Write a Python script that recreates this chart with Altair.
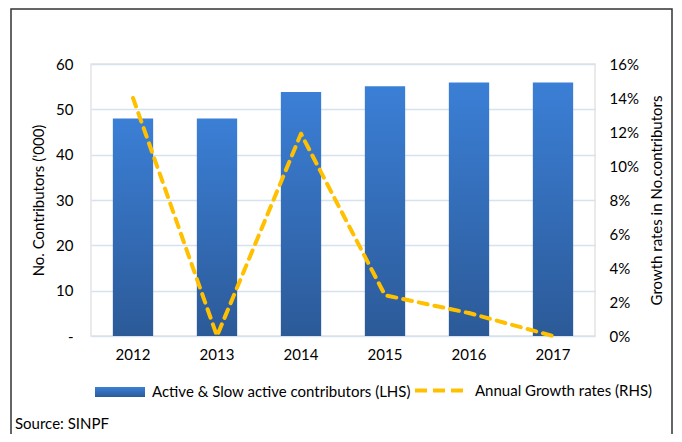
import altair as alt
import pandas as pd

years = ["2012", "2013", "2014", "2015", "2016", "2017"]
contributors = [48.0, 48.0, 53.8, 55.1, 55.9, 55.9]
growth_pct = [14.0, 0.0, 11.9, 2.4, 1.35, 0.0]

bar_label = "Active & Slow active contributors (LHS)"
line_label = "Annual Growth rates (RHS)"

df = pd.DataFrame({
    "year": years,
    "contrib": contributors,
    "growth": [g / 100 for g in growth_pct],
    "bar_series": [bar_label] * len(years),
    "line_series": [line_label] * len(years),
})

FONT = "Lato"
FS = 15

x_enc = alt.X(
    "year:N",
    sort=years,
    scale=alt.Scale(paddingInner=0.52, paddingOuter=0.26),
    axis=alt.Axis(title=None, labelAngle=0, ticks=False, domain=False,
                  labelPadding=11, labelFontSize=FS, labelColor="#000000",
                  labelFont=FONT),
)

grad = alt.Gradient(
    gradient="linear",
    stops=[alt.GradientStop(color="#3b7fd6", offset=0),
           alt.GradientStop(color="#2c5a98", offset=1)],
    x1=0, x2=0, y1=0, y2=1,
)

bars = alt.Chart(df).mark_bar(fill=grad, strokeWidth=0).encode(
    x=x_enc,
    y=alt.Y(
        "contrib:Q",
        scale=alt.Scale(domain=[0, 60], nice=False),
        axis=alt.Axis(
            title="No. Contributors ('000)", values=[0, 10, 20, 30, 40, 50, 60],
            labelExpr="datum.value == 0 ? '-' : datum.label",
            ticks=False, domain=False, labelPadding=18,
            labelFontSize=FS, labelColor="#000000", labelFont=FONT,
            titleFont=FONT, titleFontSize=FS, titleFontWeight="normal",
            titleColor="#000000", titlePadding=9,
            grid=True, gridColor="#d6e2f0", gridWidth=1.3,
        ),
    ),
    stroke=alt.Stroke(
        "bar_series:N",
        scale=alt.Scale(domain=[bar_label], range=["#3366aa"]),
        legend=alt.Legend(
            title=None, orient="none", legendX=4, legendY=318,
            symbolType="M-1,-0.5H4V0.5H-1Z", symbolSize=400,
            symbolFillColor="#3366aa", symbolStrokeWidth=0,
            labelFontSize=FS, labelFont=FONT, labelColor="#000000",
            labelOffset=37, labelLimit=0,
        ),
    ),
)

line = alt.Chart(df).mark_line(
    strokeWidth=4, strokeDash=[9, 7], strokeCap="round", strokeJoin="round"
).encode(
    x=alt.X("year:N", sort=years),
    y=alt.Y(
        "growth:Q",
        scale=alt.Scale(domain=[0, 0.16], nice=False),
        axis=alt.Axis(
            title="Growth rates in No.contributors", orient="right",
            values=[0, 0.02, 0.04, 0.06, 0.08, 0.1, 0.12, 0.14, 0.16],
            format=".0%", ticks=False, domain=False, grid=False,
            labelPadding=14, labelFontSize=FS, labelColor="#000000",
            labelFont=FONT, titleFont=FONT, titleFontSize=FS,
            titleFontWeight="normal", titleColor="#000000", titlePadding=26,
            titleAngle=270,
        ),
    ),
    color=alt.Color(
        "line_series:N",
        scale=alt.Scale(domain=[line_label], range=["#FFC000"]),
        legend=alt.Legend(
            title=None, orient="none", legendX=322, legendY=300,
            symbolType="stroke", symbolSize=2400, symbolStrokeWidth=4,
            symbolDash=[12, 6],
            labelFontSize=FS, labelFont=FONT, labelColor="#000000",
            labelOffset=9, labelLimit=0,
        ),
    ),
)

deco = pd.DataFrame({"t": ["Source: SINPF"]})
source = alt.Chart(deco).mark_text(
    align="left", baseline="middle", fontSize=FS, font=FONT, color="#000000"
).encode(x=alt.value(-76), y=alt.value(360), text="t:N")

border = alt.Chart(deco).mark_rect(
    fill=None, stroke="#333333", strokeWidth=1.5, clip=False
).encode(x=alt.value(-80), x2=alt.value(581), y=alt.value(-55), y2=alt.value(420))

chart = alt.layer(bars, line, source, border).resolve_scale(
    y="independent", color="independent", stroke="independent"
).properties(
    width=504, height=272,
    autosize=alt.AutoSizeParams(type="none"),
    padding={"left": 83, "top": 56, "right": 79, "bottom": 98},
).configure_view(stroke="#e4e4e4", strokeWidth=1.5)

chart.save("out.html", embed_options={"renderer": "svg", "actions": False})
